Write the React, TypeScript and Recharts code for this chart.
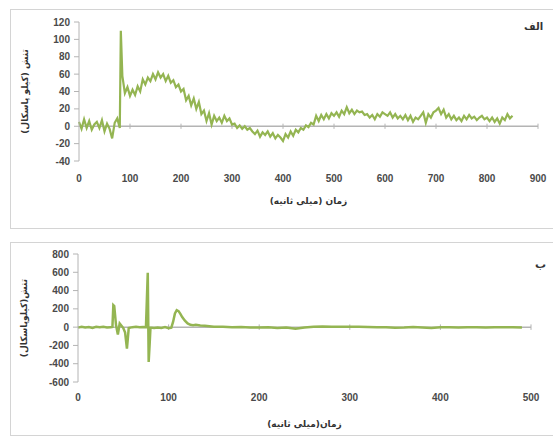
import { LineChart, Line, XAxis, YAxis, ReferenceLine } from "recharts";

// panel الف : time (ms) and stress (kPa)
const topTimes = [
  0, 5, 10, 15, 20, 25, 30, 35, 40, 45, 50, 55, 60, 65, 70, 75, 80, 82, 85, 90,
  95, 100, 105, 110, 115, 120, 125, 130, 135, 140, 145, 150, 155, 160, 165, 170, 175, 180, 185, 190,
  195, 200, 205, 210, 215, 220, 225, 230, 235, 240, 245, 250, 255, 260, 265, 270, 275, 280, 285, 290,
  295, 300, 305, 310, 315, 320, 325, 330, 335, 340, 345, 350, 355, 360, 365, 370, 375, 380, 385, 390,
  395, 400, 405, 410, 415, 420, 425, 430, 435, 440, 445, 450, 455, 460, 465, 470, 475, 480, 485, 490,
  495, 500, 505, 510, 515, 520, 525, 530, 535, 540, 545, 550, 555, 560, 565, 570, 575, 580, 585, 590,
  595, 600, 605, 610, 615, 620, 625, 630, 635, 640, 645, 650, 655, 660, 665, 670, 675, 680, 685, 690,
  695, 700, 705, 710, 715, 720, 725, 730, 735, 740, 745, 750, 755, 760, 765, 770, 775, 780, 785, 790,
  795, 800, 805, 810, 815, 820, 825, 830, 835, 840, 845, 850,
];
const topStress = [
  5, -3, 8, -2, 6, -4, 2, 5, -2, 7, -6, 3, -3, -14, 4, 9, -2, 110, 58, 38,
  45, 35, 42, 36, 46, 40, 54, 48, 56, 52, 60, 54, 62, 56, 60, 52, 58, 50, 53, 45,
  48, 40, 43, 30, 35, 24, 32, 20, 28, 14, 18, 6, 15, 2, 12, 6, 10, 4, 12, 6,
  9, 2, 3, -2, 1, -3, 0, -4, -2, -6, -9, -5, -12, -7, -10, -6, -12, -8, -14, -10,
  -13, -17, -9, -13, -6, -11, -4, -7, -2, -4, 1, -1, 4, 2, 12, 6, 13, 8, 14, 9,
  15, 12, 16, 11, 18, 14, 22, 15, 19, 14, 18, 16, 17, 13, 14, 10, 13, 8, 14, 11,
  16, 14, 12, 16, 10, 14, 9, 12, 8, 13, 7, 12, 5, 10, 8, 12, 16, 4, 14, 10,
  16, 18, 21, 14, 19, 10, 14, 8, 12, 7, 10, 6, 12, 8, 13, 9, 11, 7, 10, 12,
  8, 10, 6, 10, 5, 9, 3, 10, 7, 14, 9, 12,
];
const topXTicks = [0, 100, 200, 300, 400, 500, 600, 700, 800, 900];
const topYTicks = [-40, -20, 0, 20, 40, 60, 80, 100, 120];

// panel ب
const botTimes = [
  0, 4, 8, 12, 16, 20, 24, 28, 32, 36, 38, 39, 40, 42, 44, 46, 48, 50, 52, 54,
  56, 60, 64, 68, 72, 75, 76, 77, 78, 79, 80, 84, 88, 92, 96, 100, 103, 105, 107, 109,
  111, 113, 115, 118, 121, 124, 127, 130, 135, 140, 145, 150, 160, 170, 180, 190, 200, 210, 220, 230,
  240, 250, 260, 270, 280, 290, 300, 310, 320, 330, 340, 350, 360, 370, 380, 390, 400, 410, 420, 430,
  440, 450, 460, 470, 480, 490,
];
const botStress = [
  -5, 5, -3, 2, -8, 3, -2, 4, -4, 0, 2, 240, 230, 20, -80, 40, 15, -10, -60, -235,
  -10, 0, 3, -2, 2, 0, 300, 595, -380, -200, -5, -10, -5, -8, 0, -12, -5, 60, 150, 185,
  175, 145, 110, 70, 40, 25, 22, 25, 18, 15, 10, 5, 3, 0, 2, -3, -5, -2, -10, -3,
  -18, -5, 4, 6, 3, 5, 3, 4, 1, -2, 0, -6, -4, 2, -3, -8, -2, 0, -3, 0,
  0, -3, -2, 0, 0, -3,
];
const botXTicks = [0, 100, 200, 300, 400, 500];
const botYTicks = [-600, -400, -200, 0, 200, 400, 600, 800];

const topData = topTimes.map((t, i) => ({ t, v: topStress[i] }));
const botData = botTimes.map((t, i) => ({ t, v: botStress[i] }));

const GREEN = "#94b552";
const AXIS = "#b4b4b4";
const tickStyle = { fontSize: 10, fill: "#4a4a4a", fontFamily: "Liberation Sans, Arial", fontWeight: 700 };
const faStyle = { fontSize: 9, fill: "#333", fontFamily: "DejaVu Sans", fontWeight: 700 };

function zeroTicks(ticks: number[], h: number) {
  return ticks.slice(1).map((t) => (
    <ReferenceLine
      key={t}
      segment={[
        { x: t, y: -h },
        { x: t, y: h },
      ]}
      stroke={AXIS}
      strokeWidth={1}
    />
  ));
}

const box = {
  position: "absolute" as const,
  left: 10,
  width: 550,
  border: "1.5px solid #d4d4d4",
  boxSizing: "border-box" as const,
};

export default function App() {
  return (
    <div style={{ position: "absolute", left: 0, top: 0, width: 553, height: 437, background: "#fff", overflow: "hidden" }}>
      <div style={{ ...box, top: 9, height: 220 }} />
      <div style={{ ...box, top: 242, height: 194 }} />

      <div style={{ position: "absolute", left: 0, top: 0 }}>
        <LineChart width={553} height={230} data={topData} margin={{ top: 22, right: 15, bottom: 26, left: 19 }}>
          <XAxis
            dataKey="t"
            type="number"
            domain={[0, 900]}
            ticks={topXTicks}
            axisLine={false}
            tickLine={false}
            tickSize={0}
            tickMargin={14}
            height={43}
            tick={tickStyle}
            label={{ value: "زمان (میلی ثانیه)", position: "insideBottom", offset: 0, style: faStyle }}
          />
          <YAxis
            type="number"
            domain={[-40, 120]}
            ticks={topYTicks}
            interval={0}
            stroke={AXIS}
            tickSize={5}
            tickMargin={4}
            width={60}
            tick={tickStyle}
            label={{ value: "تنش (کیلو پاسکال)", angle: -90, position: "insideLeft", offset: 6, style: { ...faStyle, textAnchor: "middle" } }}
          />
          <ReferenceLine y={0} stroke={AXIS} strokeWidth={1.5} />
          {zeroTicks(topXTicks, 3)}
          <Line type="linear" dataKey="v" stroke={GREEN} strokeWidth={2.2} dot={false} isAnimationActive={false} />
        </LineChart>
      </div>

      <div style={{ position: "absolute", left: 0, top: 230 }}>
        <LineChart width={553} height={207} data={botData} margin={{ top: 24, right: 22, bottom: 10, left: 18 }}>
          <XAxis
            dataKey="t"
            type="number"
            domain={[0, 500]}
            ticks={botXTicks}
            axisLine={false}
            tickLine={false}
            tickSize={0}
            tickMargin={12}
            height={45}
            tick={tickStyle}
            label={{ value: "زمان(میلی ثانیه)", position: "insideBottom", offset: 0, style: faStyle }}
          />
          <YAxis
            type="number"
            domain={[-600, 800]}
            ticks={botYTicks}
            interval={0}
            stroke={AXIS}
            tickSize={5}
            tickMargin={4}
            width={60}
            tick={tickStyle}
            label={{ value: "تنش(کیلوپاسکال)", angle: -90, position: "insideLeft", offset: 6, style: { ...faStyle, textAnchor: "middle" } }}
          />
          <ReferenceLine y={0} stroke={AXIS} strokeWidth={1.5} />
          {zeroTicks(botXTicks, 30)}
          <Line type="linear" dataKey="v" stroke={GREEN} strokeWidth={2.5} dot={false} isAnimationActive={false} />
        </LineChart>
      </div>

      <div style={{ position: "absolute", left: 524, top: 21, fontSize: 10, fontFamily: "DejaVu Sans", fontWeight: 700, color: "#333" }}>الف</div>
      <div style={{ position: "absolute", left: 535, top: 258, fontSize: 11, fontFamily: "DejaVu Sans", fontWeight: 700, color: "#333" }}>ب</div>
    </div>
  );
}
